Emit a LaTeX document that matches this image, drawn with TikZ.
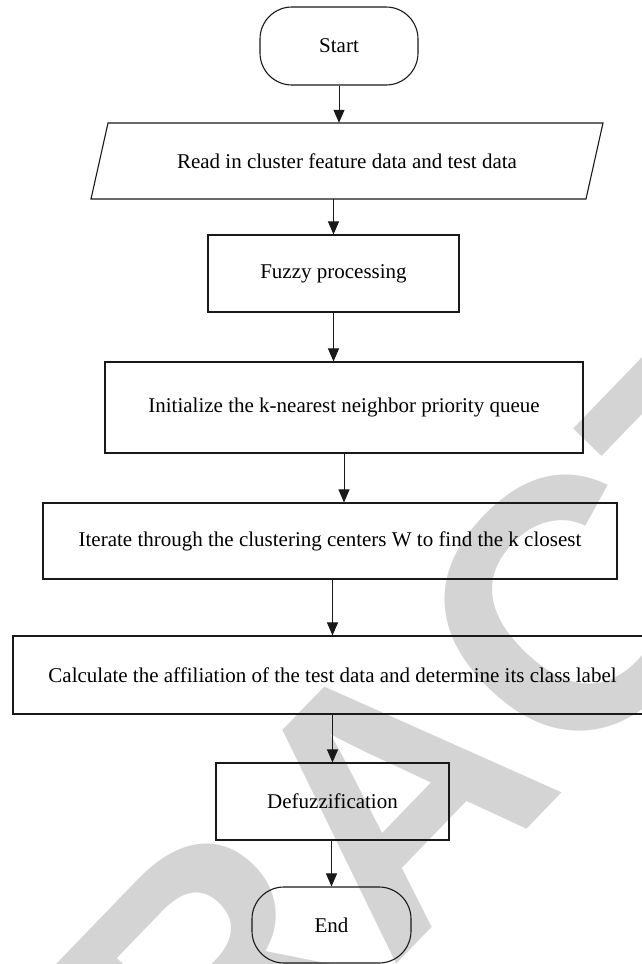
\documentclass[tikz,border=0pt]{standalone}
\usepackage{fontspec}
\setmainfont{Liberation Serif}
\newfontfamily\wmfont{Liberation Sans}
\usetikzlibrary{arrows.meta}
\begin{document}
\begin{tikzpicture}[x=1pt,y=-1pt,
  box/.style={draw=black!90, line width=1.1pt, inner sep=0pt, font=\fontsize{21}{24}\selectfont},
  term/.style={box, rounded corners=32pt},
  txt/.style={inner sep=0pt, font=\fontsize{21}{24}\selectfont},
  arr/.style={draw=black!90, line width=1pt, -{Triangle[length=13pt,width=11pt]}},
  wm/.style={inner sep=0pt, text=black!17, font=\wmfont\bfseries\fontsize{355}{355}\selectfont}
]
\useasboundingbox (0,0) rectangle (642,964);
\begin{scope}
\clip (0,0) rectangle (642,964);
\fill[white] (0,0) rectangle (642,964);
% watermark
\node[wm, rotate=46] (wm) at (392,793) {RETRACTED};
% nodes
\node[term, minimum width=158pt, minimum height=78pt] (start) at (339,46) {Start};
\node[txt, minimum width=478pt, minimum height=76pt] (read) at (347,161) {Read in cluster feature data and test data};
\draw[line width=1.1pt, draw=black!90] (108,123) -- (603,123) -- (586,199) -- (91,199) -- cycle;
\node[box, minimum width=251pt, minimum height=77pt] (fuzzy) at (333.5,273.5) {Fuzzy processing};
\node[box, minimum width=478pt, minimum height=91pt] (init) at (344,407.5) {Initialize the k-nearest neighbor priority queue};
\node[box, minimum width=574pt, minimum height=76pt] (iter) at (330,541) {Iterate through the clustering centers W to find the k closest};
\node[box, minimum width=639pt, minimum height=78pt] (calc) at (332.5,675) {Calculate the affiliation of the test data and determine its class label};
\node[box, minimum width=233pt, minimum height=77pt] (defuzz) at (332.5,801.5) {Defuzzification};
\node[term, minimum width=159pt, minimum height=76pt] (end) at (331.5,925) {End};
% connectors
\draw[arr] (start.south) -- (start.south |- read.north);
\draw[arr] (fuzzy.north |- read.south) -- (fuzzy.north);
\draw[arr] (fuzzy.south) -- (fuzzy.south |- init.north);
\draw[arr] (init.south) -- (init.south |- iter.north);
\draw[arr] (calc.north |- iter.south) -- (calc.north);
\draw[arr] (defuzz.north |- calc.south) -- (defuzz.north);
\draw[arr] (end.north |- defuzz.south) -- (end.north);
\end{scope}
\end{tikzpicture}
\end{document}
